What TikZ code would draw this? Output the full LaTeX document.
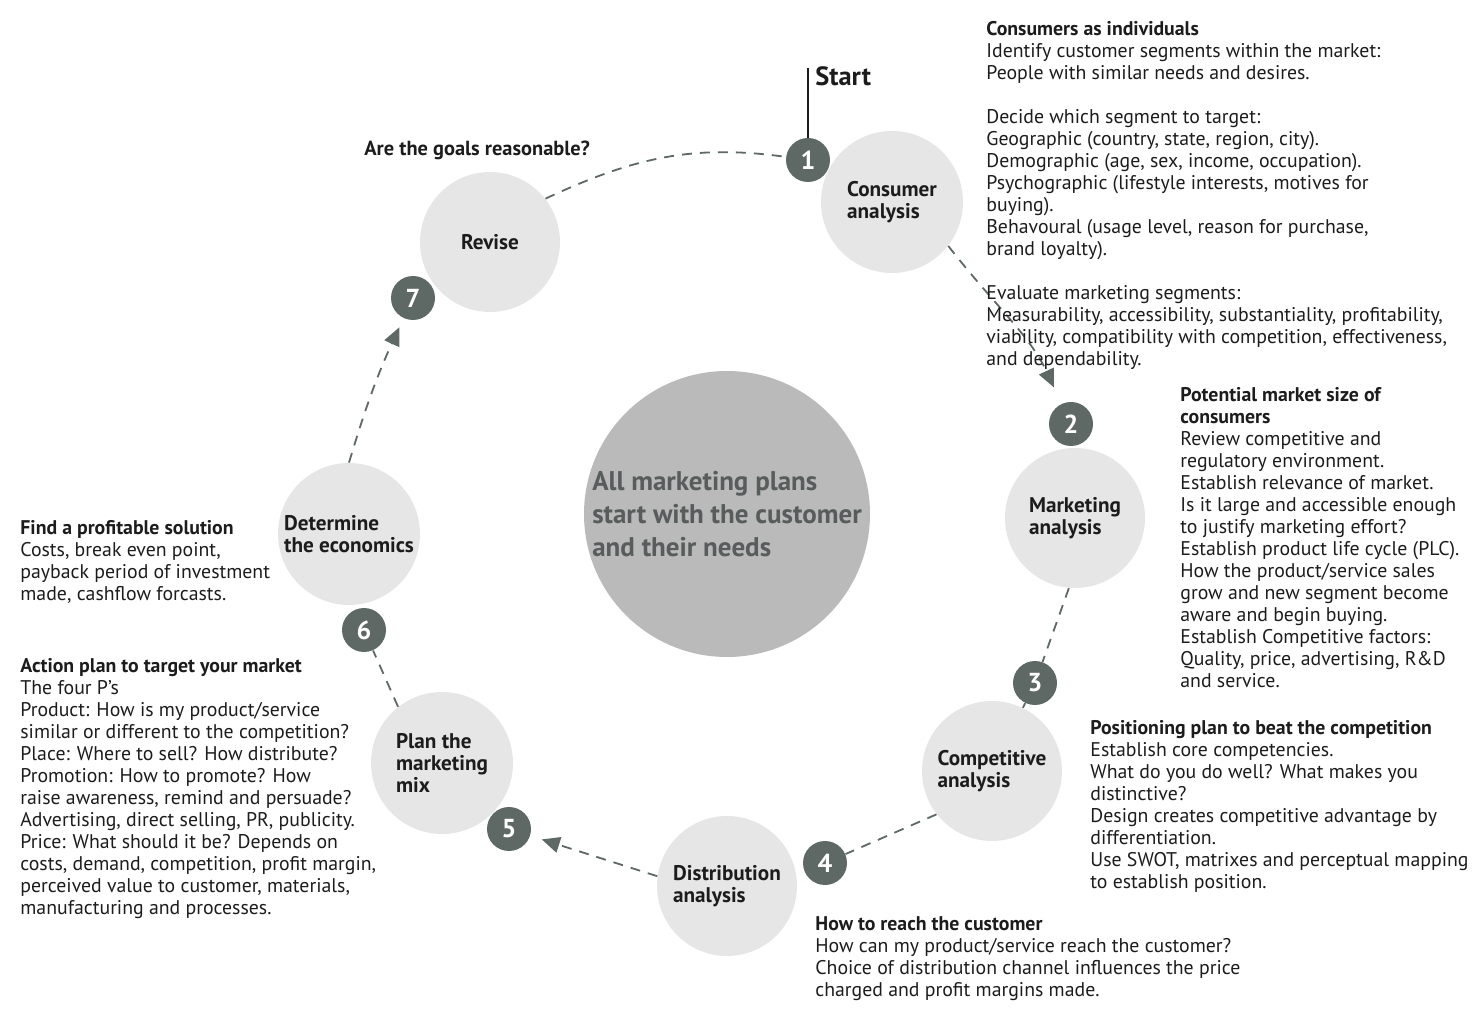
\documentclass[tikz,border=0pt]{standalone}
\usepackage{fontspec}
\setmainfont{PT Sans}
\usetikzlibrary{arrows.meta}
\definecolor{stagegrey}{RGB}{230,230,230}
\definecolor{hubgrey}{RGB}{186,186,186}
\definecolor{hubtext}{RGB}{88,92,92}
\definecolor{badgegrey}{RGB}{94,104,100}
\definecolor{inkgrey}{RGB}{28,28,28}

\begin{document}
\begin{tikzpicture}[x=0.5pt,y=0.5pt,
  stage/.style={circle,fill=stagegrey,minimum size=71pt,inner sep=0pt,align=left,
    text=inkgrey,font=\bfseries\fontsize{10.6}{11}\selectfont},
  badge/.style={circle,fill=badgegrey,minimum size=22pt,inner sep=0pt,text=white,
    font=\bfseries\fontsize{13}{13}\selectfont},
  flow/.style={badgegrey,line width=0.9pt,dash pattern=on 5pt off 4pt},
  tip/.style={-{Triangle[length=9pt,width=8pt]}},
  note/.style={anchor=north west,inner sep=0pt,align=left,text=inkgrey,
    font=\fontsize{9.9}{11}\selectfont}]
  \useasboundingbox (0,0) rectangle (1480,-1027);
  % hub and stages
  \node[circle,fill=hubgrey,minimum size=143pt,inner sep=0pt,align=left,text=hubtext,
    font=\bfseries\fontsize{13.5}{16.5}\selectfont] (hub) at (727,-514)
    {All marketing plans\\start with the customer\\and their needs};
  \node[stage] (consumer) at (892,-202) {Consumer\\analysis};
  \node[stage,minimum size=70pt] (marketing) at (1075,-518) {Marketing\\analysis};
  \node[stage,minimum size=70pt] (competitive) at (992,-771) {Competitive\\analysis};
  \node[stage,minimum size=70pt] (distribution) at (727,-886) {Distribution\\analysis};
  \node[stage] (plan) at (442,-763) {Plan the\\marketing\\mix};
  \node[stage] (determine) at (349,-534) {Determine\\the economics};
  \node[stage,minimum size=70pt] (revise) at (490,-242) {Revise};
  \foreach \n/\x/\y in {1/808/160,2/1071/424,3/1035/683,4/825/863,5/509/829,6/364/630,7/413/298}
    \node[badge] (b\n) at (\x,-\y) {\n};
  % start marker
  \coordinate (start) at (808,-68);
  \draw[line width=1.2pt,inkgrey] (start) -- (b1.north);
  \node[anchor=north west,inner sep=0pt,text=inkgrey,font=\bfseries\fontsize{13.2}{14}\selectfont]
    (starttext) at (815,-66) {Start};
  % cycle
  \draw[flow] (revise.38) to[out=25,in=172] (b1);
  \draw[flow,tip,shorten >=9pt] (consumer.-38) to[out=-52,in=115] (b2);
  \draw[flow] (marketing.-95) -- (b3);
  \draw[flow] (b3) -- (competitive);
  \draw[flow] (competitive.-142) -- (b4);
  \draw[flow,tip,shorten >=6pt] (distribution.172) -- (b5);
  \draw[flow] (plan.128) -- (b6);
  \draw[flow,tip,shorten >=5pt] (determine.north) to[bend left=4] (b7);
  % notes
  \node[note,font=\bfseries\fontsize{10.2}{11}\selectfont] (goals) at (364,-141) {Are the goals reasonable?};
  \node[note] (noteconsumer) at (986,-21) {\textbf{Consumers as individuals}\\
    Identify customer segments within the market:\\
    People with similar needs and desires.\\[11pt]
    Decide which segment to target:\\
    Geographic (country, state, region, city).\\
    Demographic (age, sex, income, occupation).\\
    Psychographic (lifestyle interests, motives for\\
    buying).\\
    Behavoural (usage level, reason for purchase,\\
    brand loyalty).\\[11pt]
    Evaluate marketing segments:\\
    Measurability, accessibility, substantiality, profitability,\\
    viability, compatibility with competition, effectiveness,\\
    and dependability.};
  \node[note] (notemarketing) at (1180,-387) {\textbf{Potential market size of}\\
    \textbf{consumers}\\
    Review competitive and\\
    regulatory environment.\\
    Establish relevance of market.\\
    Is it large and accessible enough\\
    to justify marketing effort?\\
    Establish product life cycle (PLC).\\
    How the product/service sales\\
    grow and new segment become\\
    aware and begin buying.\\
    Establish Competitive factors:\\
    Quality, price, advertising, R\&D\\
    and service.};
  \node[note] (notecompetitive) at (1090,-720) {\textbf{Positioning plan to beat the competition}\\
    Establish core competencies.\\
    What do you do well? What makes you\\
    distinctive?\\
    Design creates competitive advantage by\\
    differentiation.\\
    Use SWOT, matrixes and perceptual mapping\\
    to establish position.};
  \node[note] (notedistribution) at (815,-916) {\textbf{How to reach the customer}\\
    How can my product/service reach the customer?\\
    Choice of distribution channel influences the price\\
    charged and profit margins made.};
  \node[note] (notedetermine) at (20,-520) {\textbf{Find a profitable solution}\\
    Costs, break even point,\\
    payback period of investment\\
    made, cashflow forcasts.};
  \node[note] (noteplan) at (20,-658) {\textbf{Action plan to target your market}\\
    The four P's\\
    Product: How is my product/service\\
    similar or different to the competition?\\
    Place: Where to sell? How distribute?\\
    Promotion: How to promote? How\\
    raise awareness, remind and persuade?\\
    Advertising, direct selling, PR, publicity.\\
    Price: What should it be? Depends on\\
    costs, demand, competition, profit margin,\\
    perceived value to customer, materials,\\
    manufacturing and processes.};
\end{tikzpicture}
\end{document}
